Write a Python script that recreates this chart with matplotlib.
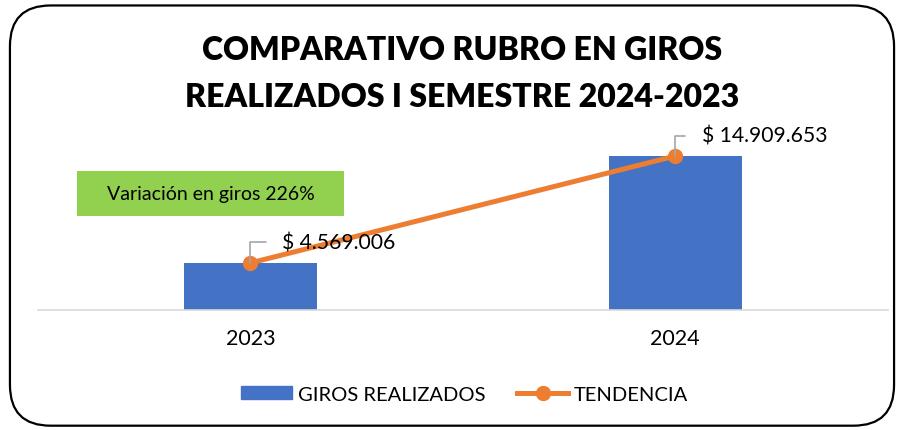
import matplotlib
matplotlib.use("Agg")
from matplotlib import pyplot as plt
from matplotlib.patches import FancyBboxPatch, Rectangle
from matplotlib.lines import Line2D

years = ["2023", "2024"]
giros = [4569006, 14909653]
labels = ["$ 4.569.006", "$ 14.909.653"]
title_lines = ["COMPARATIVO RUBRO EN GIROS", "REALIZADOS I SEMESTRE 2024-2023"]
note = "Variación en giros 226%"

blue = "#4472C4"
orange = "#ED7D31"
green = "#92D050"
body_font = ["Lato", "DejaVu Sans"]

fig = plt.figure(figsize=(9.04, 4.31), dpi=100)
ax = fig.add_axes([0.042, 0.278, 0.940, 0.397])

x = list(range(len(years)))
ax.bar(x, giros, width=0.313, color=blue, zorder=2)
ax.plot(x, giros, color=orange, lw=3.6, marker="o", ms=10, zorder=4, solid_capstyle="round")

ax.set_xlim(-0.5, 1.5)
ax.set_ylim(0, 16.55e6)
ax.set_yticks([])
ax.set_xticks(x)
ax.set_xticklabels(years, fontsize=15.5, family=body_font)
ax.tick_params(axis="x", length=0, pad=13)
for s in ["top", "right", "left"]:
    ax.spines[s].set_visible(False)
ax.spines["bottom"].set_color("#D9D9D9")
ax.spines["bottom"].set_linewidth(1.2)

offsets = [(23, 15), (19, 14.5)]
for xi, v, lab, off in zip(x, giros, labels, offsets):
    ax.annotate(lab, xy=(xi, v), xytext=off, textcoords="offset points",
                fontsize=15.2, family=body_font, va="center", ha="left",
                arrowprops=dict(arrowstyle="-", color="#A5A5A5", lw=1.2,
                                connectionstyle="angle,angleA=0,angleB=90,rad=0",
                                relpos=(0, 0.5), shrinkA=10, shrinkB=0),
                zorder=5)

# green note box
fig.patches.append(Rectangle((0.085, 0.4965), 0.296, 0.104, transform=fig.transFigure,
                             facecolor=green, edgecolor="none", zorder=1))
fig.text(0.085 + 0.148, 0.4965 + 0.052, note, ha="center", va="center",
         fontsize=14, family=body_font, zorder=3)

# title
fig.text(0.511, 0.882, title_lines[0], ha="center", va="center", fontsize=23,
         fontweight="heavy", family=body_font)
fig.text(0.511, 0.773, title_lines[1], ha="center", va="center", fontsize=23,
         fontweight="heavy", family=body_font)

# legend
handles = [Rectangle((0, 0), 1, 1, color=blue),
           Line2D([0], [0], color=orange, lw=3.6, marker="o", ms=10)]
fig.legend(handles, ["GIROS REALIZADOS", "TENDENCIA"], loc="center",
           bbox_to_anchor=(0.514, 0.0835), ncol=2, frameon=False,
           prop=dict(family=body_font, size=14.5), handlelength=2.5,
           handletextpad=0.3, columnspacing=1.6, handleheight=0.6)

# rounded border
fig.patches.append(FancyBboxPatch((0.011, 0.01), 0.978, 0.975, transform=fig.transFigure,
                                  boxstyle="round,pad=0,rounding_size=0.045",
                                  facecolor="none", edgecolor="black", lw=1.6,
                                  mutation_aspect=2.1, zorder=10))

fig.savefig("out.png", dpi=100)
